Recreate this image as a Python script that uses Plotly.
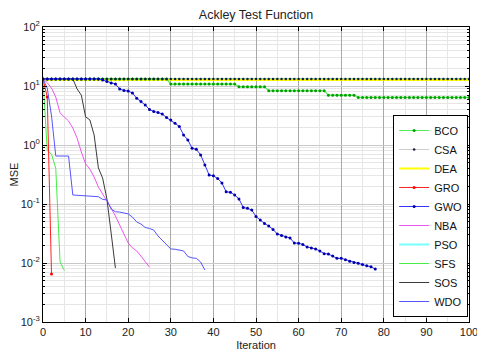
import plotly.graph_objects as go

bco = [13.2]*30 + [10.8]*16 + [9.7]*7 + [8.3]*14 + [7.0]*7 + [6.4]*27
csa = [13.2]*101
dea = [12.7]*101
pso = [13.2]*101

gro = [13.2, 6.5, 0.0065]

gwo = [13.2, 13.2, 13.2, 13.2, 13.2, 13.2, 13.2, 13.2, 13.2, 13.2,
       13.2, 13.2, 13.2, 13.2, 12.6, 11.9, 11.2, 10.8, 8.9, 8.4,
       8.2, 7.6, 6.2, 5.46, 4.76, 4.0, 3.7, 3.56, 3.35, 2.92,
       2.65, 2.33, 2.06, 1.48, 1.22, 0.88, 0.845, 0.68, 0.46, 0.31,
       0.30, 0.27, 0.227, 0.161, 0.158, 0.142, 0.122, 0.087, 0.0845, 0.079,
       0.0614, 0.0535, 0.0467, 0.0424, 0.037, 0.031, 0.0292, 0.0276, 0.0265, 0.0218,
       0.0216, 0.0206, 0.0187, 0.018, 0.0173, 0.016, 0.0144, 0.0142, 0.0131, 0.012,
       0.012, 0.0114, 0.0107, 0.0102, 0.0099, 0.0094, 0.0090, 0.0086, 0.0079]

nba = [13.2, 11.4, 9.2, 6.5, 3.5, 3.0, 2.55, 1.94, 1.31, 0.76,
       0.48, 0.39, 0.287, 0.194, 0.148, 0.117, 0.0855, 0.0626, 0.044, 0.031,
       0.0218, 0.018, 0.016, 0.0131, 0.0104, 0.0085]

sfs = [13.2, 0.8, 0.7, 0.4, 0.0105, 0.0075]

sos = [13.2, 13.2, 13.2, 13.2, 13.2, 13.2, 13.2, 13.2, 8.9, 7.0,
       3.0, 2.66, 1.48, 0.41, 0.275, 0.122, 0.032, 0.0082]

wdo = [13.2, 9.2, 3.1, 0.65, 0.65, 0.65, 0.65, 0.142, 0.14, 0.14,
       0.14, 0.138, 0.136, 0.133, 0.12, 0.117, 0.082, 0.074, 0.073, 0.070,
       0.068, 0.060, 0.0496, 0.0458, 0.040, 0.0385, 0.036, 0.0287, 0.0245, 0.0202,
       0.0173, 0.0171, 0.0166, 0.016, 0.0129, 0.0122, 0.012, 0.0104, 0.0076]

x_ticks = [0, 10, 20, 30, 40, 50, 60, 70, 80, 90, 100]
y_ticks = [0.001, 0.01, 0.1, 1, 10, 100]
y_tick_text = ["10<sup>-3</sup>", "10<sup>-2</sup>", "10<sup>-1</sup>",
               "10<sup>0</sup>", "10<sup>1</sup>", "10<sup>2</sup>"]

FONT = "Liberation Sans, Arial, sans-serif"

# The page body has an 8px margin, so the figure is sized to end at the window edge.
W, H = 477, 347

fig = go.Figure()

def add(name, y, color, width=1.0, marker=False, mcolor=None, msize=3):
    fig.add_trace(go.Scatter(
        x=list(range(len(y))), y=y, name=name,
        mode="lines+markers" if marker else "lines",
        line=dict(color=color, width=width),
        marker=dict(size=msize, color=mcolor or color) if marker else None,
    ))

add("PSO", pso, "#77ffff", 1.8)
add("DEA", dea, "#ffff00", 2.2)
add("BCO", bco, "#55ee55", 1.2, True, "#00a000", 3)
add("CSA", csa, "rgba(0,0,0,0.4)", 0.5, True, "#1a1a40", 2.5)
add("SFS", sfs, "#44ee44", 1.0)
add("GRO", gro, "#ff2222", 1.0, True, "#ff0000", 3)
add("NBA", nba, "#ee55ee", 1.0)
add("SOS", sos, "#3a3a3a", 1.0)
add("WDO", wdo, "#5555ff", 1.0)
add("GWO", gwo, "#3333ff", 1.0, True, "#0000aa", 3)

order = ["BCO", "CSA", "DEA", "GRO", "GWO", "NBA", "PSO", "SFS", "SOS", "WDO"]
for tr in fig.data:
    tr.legendrank = order.index(tr.name) + 1

fig.update_layout(
    width=W, height=H,
    margin=dict(l=35, r=16, t=19, b=33, autoexpand=False),
    paper_bgcolor="white", plot_bgcolor="white",
    font=dict(family=FONT, size=11, color="#222222"),
    title=dict(text="Ackley Test Function", x=0.5, xref="paper", y=1 - 7/H,
               yref="container", xanchor="center", yanchor="middle",
               font=dict(size=12.5, color="#222222")),
    legend=dict(x=0.998, xanchor="right", y=0.017, yanchor="bottom",
                bgcolor="white", bordercolor="#000000", borderwidth=1,
                font=dict(size=11, color="#111111"), itemwidth=30,
                tracegroupgap=0),
    showlegend=True,
)

fig.update_xaxes(
    range=[0, 100], tickvals=x_ticks, ticktext=[str(v) for v in x_ticks],
    showline=True, linecolor="black", linewidth=1, mirror="allticks",
    ticks="inside", ticklen=4, tickcolor="black",
    showgrid=True, gridcolor="#a8a8a8", gridwidth=1,
    minor=dict(dtick=5, showgrid=True, gridcolor="#e6e6e6", ticks=""),
    zeroline=False, automargin=False,
    title=dict(text="Iteration", standoff=4, font=dict(size=11)),
    tickfont=dict(size=11),
)
fig.update_yaxes(
    type="log", range=[-3, 2], tickvals=y_ticks, ticktext=y_tick_text,
    showline=True, linecolor="black", linewidth=1, mirror="allticks",
    ticks="inside", ticklen=4, tickcolor="black",
    showgrid=True, gridcolor="#c8c8c8", gridwidth=1,
    minor=dict(dtick="D1", showgrid=True, gridcolor="#e6e6e6", ticks="inside",
               ticklen=2, tickcolor="black"),
    zeroline=False, automargin=False,
    title=dict(text="MSE", standoff=2, font=dict(size=11)),
    tickfont=dict(size=11),
)

fig.write_html("out.html")
